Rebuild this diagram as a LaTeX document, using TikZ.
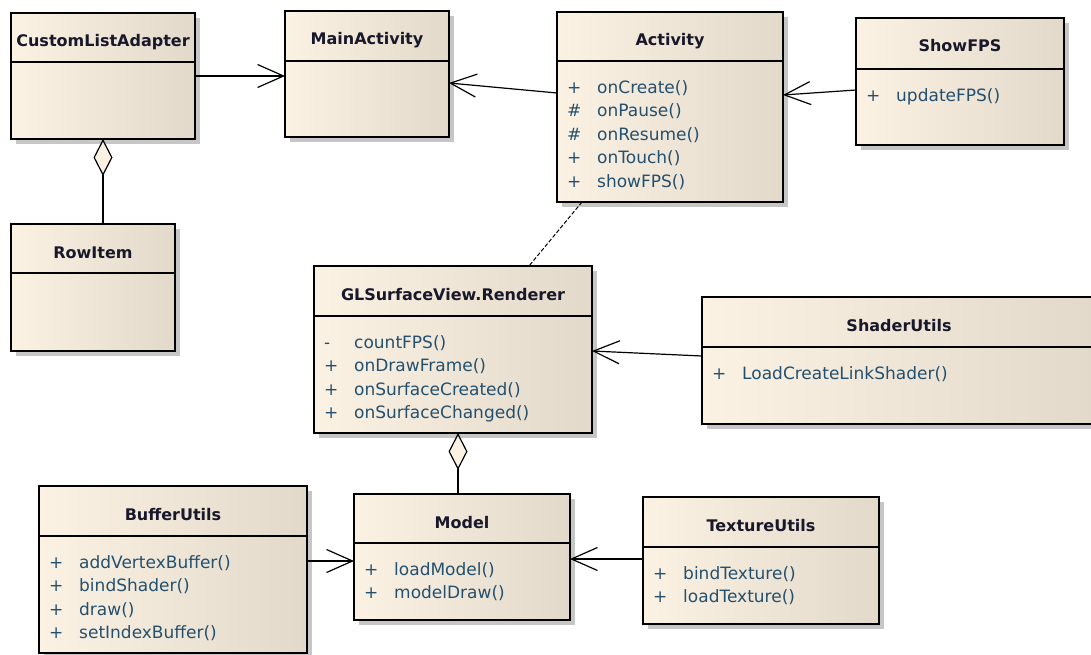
\documentclass[tikz,border=0pt]{standalone}
\usepackage{fontspec}
\setmainfont{DejaVu Sans}
\usetikzlibrary{calc,arrows.meta,shadows}

\definecolor{boxL}{HTML}{FCF2E4}
\definecolor{boxR}{HTML}{E3D9CA}
\definecolor{shadowc}{HTML}{C6C6C6}
\definecolor{titlec}{HTML}{18182A}
\definecolor{opc}{HTML}{23506E}

\tikzset{
  umlbox/.style={draw=black, line width=1.6pt, left color=boxL, right color=boxR,
    inner sep=0pt, outer sep=0pt, anchor=north west,
    general shadow={fill=shadowc, shadow xshift=5pt, shadow yshift=-5pt}},
  divider/.style={draw=black, line width=1.6pt},
  classname/.style={anchor=base, inner sep=0pt, text=titlec,
    font=\bfseries\fontsize{16}{19}\selectfont},
  opname/.style={anchor=base west, inner sep=0pt, text=opc,
    font=\fontsize{17}{20}\selectfont},
  dep/.style={draw=black, line width=1.2pt, -{Straight Barb[length=26pt,width=23pt]}},
  realize/.style={draw=black, line width=1pt, dash pattern=on 4pt off 2pt},
  aggr/.style={draw=black, line width=1.2pt, -{Diamond[length=37pt,width=19pt,fill=boxL]}}
}

% class box: name, left, top, right, bottom, divider offset, class name
\newcommand\umlclass[7]{%
  \node[umlbox, minimum width={(#4-#2)*1pt}, minimum height={(#5-#3)*1pt}] (#1) at (#2,#3) {};
  \draw[divider] ($(#1.north west)+(0,#6)$) -- ($(#1.north east)+(0,#6)$);
  \node[classname] (#1-title) at ($(#1.north)+(0,34)$) {#7};
}
% operation row: box, divider offset, row index, visibility, operation
\newcommand\umlop[5]{%
  \node[opname] (#1-v#3) at ($(#1.north west)+(10,{#2+32.5+#3*23.4})$) {#4};
  \node[opname] (#1-o#3) at ($(#1.north west)+(40,{#2+32.5+#3*23.4})$) {#5};
}

\begin{document}
\begin{tikzpicture}[x=1pt, y=-1pt]
\clip (0,0) rectangle (1091,655);
\fill[white] (0,0) rectangle (1091,655);

\umlclass{cla}{11}{13}{195}{139}{49}{CustomListAdapter}
\umlclass{ma}{285}{11}{449}{137}{50}{MainActivity}
\umlclass{act}{557}{12}{783}{202}{49}{Activity}
\umlop{act}{49}{0}{+}{onCreate()}
\umlop{act}{49}{1}{\#}{onPause()}
\umlop{act}{49}{2}{\#}{onResume()}
\umlop{act}{49}{3}{+}{onTouch()}
\umlop{act}{49}{4}{+}{showFPS()}
\umlclass{fps}{856}{18}{1064}{145}{51}{ShowFPS}
\umlop{fps}{51}{0}{+}{updateFPS()}
\umlclass{row}{11}{224}{175}{351}{49}{RowItem}
\umlclass{rend}{314}{266}{592}{433}{50}{GLSurfaceView.Renderer}
\umlop{rend}{50}{0}{-}{countFPS()}
\umlop{rend}{50}{1}{+}{onDrawFrame()}
\umlop{rend}{50}{2}{+}{onSurfaceCreated()}
\umlop{rend}{50}{3}{+}{onSurfaceChanged()}
\umlclass{shd}{702}{297}{1096}{424}{50}{ShaderUtils}
\umlop{shd}{50}{0}{+}{LoadCreateLinkShader()}
\umlclass{buf}{39}{486}{307}{653}{50}{BufferUtils}
\umlop{buf}{50}{0}{+}{addVertexBuffer()}
\umlop{buf}{50}{1}{+}{bindShader()}
\umlop{buf}{50}{2}{+}{draw()}
\umlop{buf}{50}{3}{+}{setIndexBuffer()}
\umlclass{mod}{354}{494}{570}{620}{49}{Model}
\umlop{mod}{49}{0}{+}{loadModel()}
\umlop{mod}{49}{1}{+}{modelDraw()}
\umlclass{tex}{643}{497}{879}{624}{50}{TextureUtils}
\umlop{tex}{50}{0}{+}{bindTexture()}
\umlop{tex}{50}{1}{+}{loadTexture()}

% associations
\draw[dep] (cla.east) -- (cla.east -| ma.west);
\coordinate (acta) at ($(act.north west)+(0,81)$);
\coordinate (mab) at ($(ma.north east)+(0,72)$);
\draw[dep] (acta) -- (mab);
\coordinate (fpsa) at ($(fps.north west)+(0,72)$);
\coordinate (actb) at ($(act.north east)+(0,83)$);
\draw[dep] (fpsa) -- (actb);
\coordinate (actc) at ($(act.south west)+(25,0)$);
\coordinate (renda) at ($(rend.north west)+(215,0)$);
\draw[realize] (actc) -- (renda);
\draw[aggr] (row.north -| cla.south) -- (cla.south);
\coordinate (shda) at ($(shd.north west)+(0,59)$);
\coordinate (rendc) at ($(rend.north east)+(0,85)$);
\draw[dep] (shda) -- (rendc);
\coordinate (rendb) at ($(rend.south west)+(144,0)$);
\draw[aggr] (mod.north -| rendb) -- (rendb);
\coordinate (bufa) at ($(buf.north east)+(0,75)$);
\draw[dep] (bufa) -- (bufa -| mod.west);
\coordinate (texa) at ($(tex.north west)+(0,62)$);
\draw[dep] (texa) -- (texa -| mod.east);
\end{tikzpicture}
\end{document}
